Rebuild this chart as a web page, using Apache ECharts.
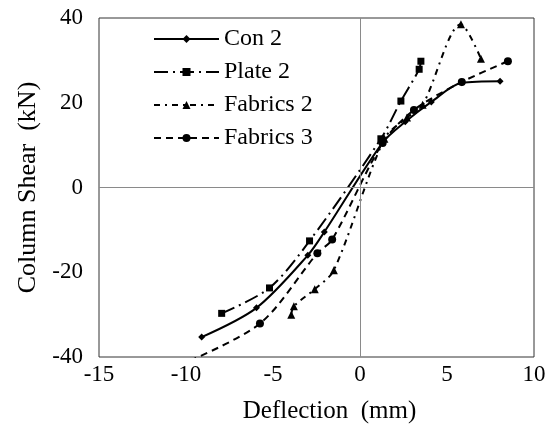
<!DOCTYPE html>
<html>
<head>
<meta charset="utf-8">
<script src="https://cdn.jsdelivr.net/npm/echarts@6/dist/echarts.min.js"></script>
<style>
  html, body { margin: 0; padding: 0; background: #fff; }
  #chart { width: 555px; height: 431px; }
</style>
</head>
<body>
<div id="chart"></div>
<script>
// series names
var seriesNames = ['Con 2', 'Plate 2', 'Fabrics 2', 'Fabrics 3'];

// [deflection (mm), column shear (kN)]
var con2 = [[-9.1, -35.3], [-5.95, -28.4], [-3.0, -16.0], [-2.05, -10.5], [1.3, 10.6], [2.6, 15.5], [4.1, 20.2], [5.85, 24.7], [8.05, 25.1]];
var plate2 = [[-7.95, -29.7], [-5.2, -23.7], [-2.9, -12.6], [1.2, 11.5], [2.35, 20.4], [3.4, 27.9], [3.5, 29.8]];
var fabrics2 = [[-3.95, -30.0], [-3.8, -28.0], [-2.6, -24.0], [-1.5, -19.5], [1.4, 11.5], [2.7, 16.5], [3.6, 19.5], [5.8, 38.5], [6.95, 30.4]];
var fabrics3 = [[-10.4, -42.0], [-5.75, -32.1], [-2.45, -15.5], [-1.6, -12.3], [1.3, 10.5], [3.1, 18.3], [5.85, 24.9], [8.5, 29.8]];

var xMin = -15, xMax = 10, xStep = 5;
var yMin = -40, yMax = 40, yStep = 20;

var myChart = echarts.init(document.getElementById('chart'));
var font = '"Liberation Serif", "Times New Roman", serif';

function mkSeries(name, data, symbol, size, dash) {
  return {
    name: name,
    type: 'line',
    data: data,
    smooth: 0.3,
    symbol: symbol,
    symbolSize: size,
    showAllSymbol: true,
    clip: true,
    lineStyle: { color: '#000', width: 2, type: dash },
    itemStyle: { color: '#000' }
  };
}

var series = [
  mkSeries(seriesNames[0], con2, 'diamond', 7, 'solid'),
  mkSeries(seriesNames[1], plate2, 'rect', 7, [14, 5, 2, 5]),
  mkSeries(seriesNames[2], fabrics2, 'triangle', 8, [6, 5, 2, 5]),
  mkSeries(seriesNames[3], fabrics3, 'circle', 8, [7, 5])
];

// the gray lines through zero
series[0].markLine = {
  silent: true,
  symbol: 'none',
  label: { show: false },
  lineStyle: { color: '#8a8a8a', width: 1, type: 'solid' },
  data: [{ xAxis: 0 }, { yAxis: 0 }]
};

var option = {
  animation: false,
  backgroundColor: '#fff',
  textStyle: { fontFamily: font },
  grid: {
    left: 99, right: 21, top: 18, bottom: 74,
    show: true,
    borderColor: '#333',
    borderWidth: 1
  },
  legend: {
    orient: 'vertical',
    left: 148,
    top: 22,
    itemWidth: 65,
    itemHeight: 10,
    itemGap: 9,
    textStyle: { fontFamily: font, fontSize: 24, color: '#000' },
    data: seriesNames
  },
  xAxis: {
    type: 'value',
    min: xMin, max: xMax, interval: xStep,
    name: 'Deflection  (mm)',
    nameLocation: 'middle',
    nameGap: 42,
    nameTextStyle: { fontFamily: font, fontSize: 25, color: '#000', padding: [0, 0, 0, 26] },
    axisLine: { show: false, onZero: false },
    axisTick: { show: false },
    splitLine: { show: false },
    axisLabel: { fontFamily: font, fontSize: 23, color: '#000', margin: 6 }
  },
  yAxis: {
    type: 'value',
    min: yMin, max: yMax, interval: yStep,
    name: 'Column Shear  (kN)',
    nameLocation: 'middle',
    nameGap: 56,
    nameTextStyle: { fontFamily: font, fontSize: 26, color: '#000' },
    axisLine: { show: false, onZero: false },
    axisTick: { show: false },
    splitLine: { show: false },
    axisLabel: { fontFamily: font, fontSize: 23, color: '#000', margin: 16 }
  },
  series: series
};

myChart.setOption(option);
</script>
</body>
</html>
